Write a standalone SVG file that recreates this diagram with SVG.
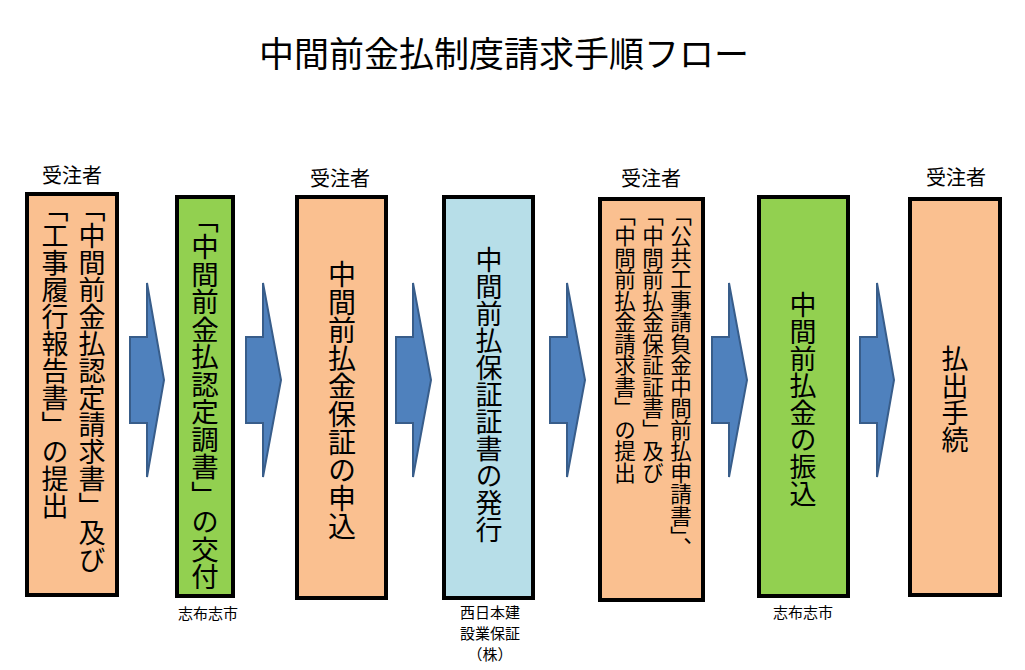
<svg xmlns="http://www.w3.org/2000/svg" width="1025" height="670" viewBox="0 0 1025 670">
<style>
text{font-family:"Noto Sans CJK JP","Noto Sans CJK SC",sans-serif;fill:#000}
.box{stroke:#000;stroke-width:4}
.orange{fill:#FAC090}
.green{fill:#92D050}
.blue{fill:#B7DEE8}
.v{writing-mode:vertical-rl;text-orientation:mixed}
.who{font-size:20px;text-anchor:middle}
.org{font-size:15px;text-anchor:middle}
.arrow{fill:#4F81BD;stroke:#385D8A;stroke-width:2;stroke-linejoin:miter}
</style>
<rect width="1025" height="670" fill="#fff"/>
<text id="title" x="504" y="67" font-size="35" text-anchor="middle">中間前金払制度請求手順フロー</text>

<g id="connectors">
<polygon class="arrow" points="130,337 147,337 147,283 164,380 147,477 147,423 130,423"/>
<polygon class="arrow" points="246,337 263,337 263,283 281,380 263,477 263,423 246,423"/>
<polygon class="arrow" points="396,337 413,337 413,283 431,380 413,477 413,423 396,423"/>
<polygon class="arrow" points="550,337 567,337 567,283 585,380 567,477 567,423 550,423"/>
<polygon class="arrow" points="712,337 729,337 729,283 747,380 729,477 729,423 712,423"/>
<polygon class="arrow" points="860,337 877,337 877,283 894,380 877,477 877,423 860,423"/>
</g>

<g id="node1">
<text class="who" x="72" y="183">受注者</text>
<rect class="box orange" x="27" y="194" width="90" height="401"/>
<text class="v" x="92" y="195" font-size="27">「中間前金払認定請求書」及び</text>
<text class="v" x="55" y="195" font-size="27">「工事履行報告書」の提出</text>
</g>

<g id="node2">
<rect class="box green" x="177" y="197" width="56" height="399"/>
<text class="v" x="205" y="398" font-size="27.5" text-anchor="middle">「中間前金払認定調書」の交付</text>
<text class="org" x="208" y="619">志布志市</text>
</g>

<g id="node3">
<text class="who" x="340" y="186">受注者</text>
<rect class="box orange" x="297" y="197" width="89" height="401"/>
<text class="v" x="342" y="400" font-size="28" text-anchor="middle">中間前払金保証の申込</text>
</g>

<g id="node4">
<rect class="box blue" x="444" y="197" width="89" height="401"/>
<text class="v" x="489" y="395" font-size="27" text-anchor="middle">中間前払保証証書の発行</text>
<text class="org" x="490" y="618">西日本建</text>
<text class="org" x="490" y="639">設業保証</text>
<text class="org" x="490" y="660">（株）</text>
</g>

<g id="node5">
<text class="who" x="651" y="186">受注者</text>
<rect class="box orange" x="600" y="199" width="103" height="401"/>
<text class="v" x="681" y="204" font-size="21.5">「公共工事請負金中間前払申請書」、</text>
<text class="v" x="653" y="204" font-size="21.5">「中間前払金保証証書」及び</text>
<text class="v" x="625" y="204" font-size="21.5">「中間前払金請求書」の提出</text>
</g>

<g id="node6">
<rect class="box green" x="759" y="197" width="89" height="399"/>
<text class="v" x="803" y="399" font-size="27" text-anchor="middle">中間前払金の振込</text>
<text class="org" x="803" y="618">志布志市</text>
</g>

<g id="node7">
<text class="who" x="956" y="185">受注者</text>
<rect class="box orange" x="910" y="199" width="90" height="396"/>
<text class="v" x="955" y="399" font-size="27" text-anchor="middle">払出手続</text>
</g>
</svg>
